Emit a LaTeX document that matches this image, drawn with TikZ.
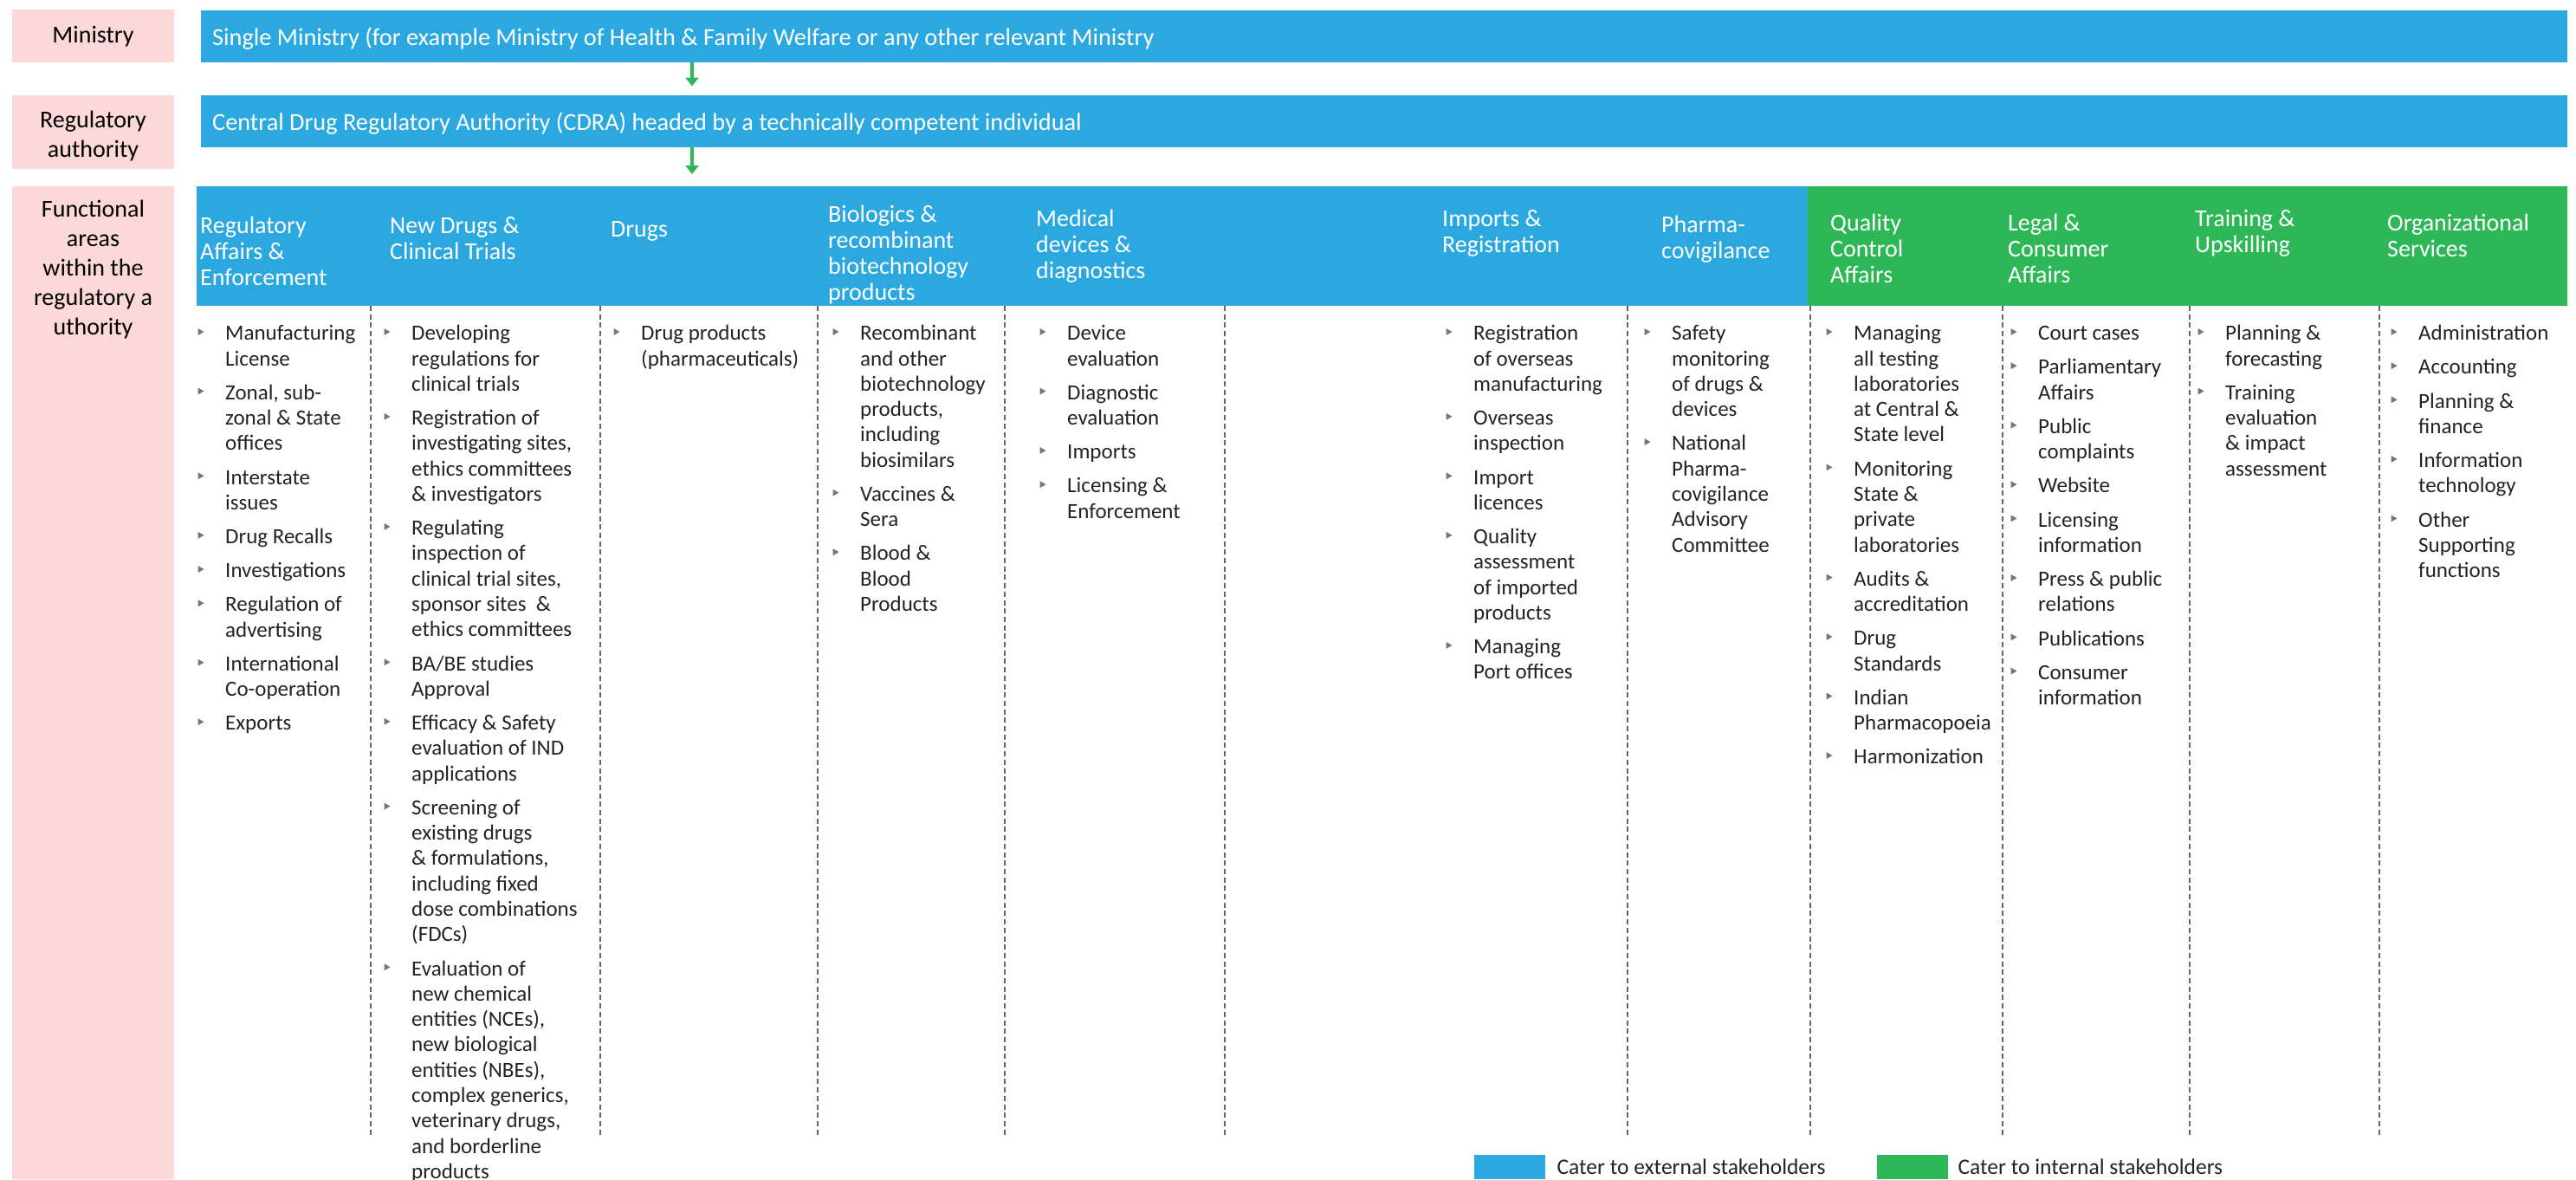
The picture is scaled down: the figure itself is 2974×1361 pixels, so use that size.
\documentclass[tikz,border=0pt]{standalone}
\usepackage{fontspec}
\setmainfont{Carlito}
\usetikzlibrary{positioning,calc,arrows.meta}
\definecolor{ExtClr}{RGB}{44,168,224}
\definecolor{IntClr}{RGB}{45,183,87}
\definecolor{LblClr}{RGB}{253,216,216}
\definecolor{SepClr}{RGB}{92,104,118}
\definecolor{BltClr}{RGB}{118,118,118}
\definecolor{TxtClr}{RGB}{35,35,35}

% one column of bulleted items: prefix, text x, items
\newcommand\areacol[3]{%
  \coordinate (#1-0) at (#2,362.5);
  \foreach \txt [count=\i] in {#3}{
    \pgfmathtruncatemacro\j{\i-1}
    \node[itm, below=9.5pt of #1-\j.south west, anchor=north west] (#1-\i) {\strut\txt\strut};
    \fill[BltClr] ($(#1-\i.north west)+(-31.5,7)$) -- ++(0,8) -- ++(7,-4) -- cycle;
  }
}

\begin{document}
\begin{tikzpicture}[x=1pt,y=-1pt,
  lbl/.style={fill=LblClr,inner sep=0,minimum width=187pt},
  lbltxt/.style={inner sep=0,align=center,font=\fontsize{28}{34}\selectfont,text=black},
  bar/.style={fill=ExtClr,inner sep=0,anchor=north west,minimum width=2732pt,minimum height=60pt},
  bartxt/.style={inner sep=0,anchor=base west,font=\fontsize{28.3}{34}\selectfont,text=white},
  hd/.style={inner sep=0,align=left,anchor=north west,font=\fontsize{28}{30}\selectfont,text=white},
  itm/.style={inner sep=0,align=left,font=\fontsize{25}{29.3}\selectfont,text=TxtClr},
  sep/.style={SepClr,line width=2.3pt,dash pattern=on 6pt off 3.7pt},
  arr/.style={IntClr,line width=4pt,-{Triangle[width=15pt,length=10pt]}},
  key/.style={inner sep=0,minimum width=82pt,minimum height=28pt,anchor=north west},
  keytxt/.style={inner sep=0,font=\fontsize{25.5}{30}\selectfont,text=TxtClr}]
\useasboundingbox (0,0) rectangle (2974,1361);

% left labels
\node[lbl,minimum height=61pt] (lmin) at (107.5,41.5) {};
\node[lbltxt,anchor=base] (lmintxt) at (107.5,49.5) {Ministry};
\node[lbl,minimum height=85pt] (lreg) at (107.5,152.5) {};
\node[lbltxt,anchor=north] (lregtxt) at (107.5,123) {\strut Regulatory\\authority};
\node[lbl,anchor=north,minimum height=1146pt] (lfun) at (107.5,215) {};
\node[lbltxt,anchor=north] (lfuntxt) at (107.5,226) {\strut Functional\\areas\\within the\\regulatory a\\uthority};

% top bars
\node[bar] (ministry) at (232,12) {};
\node[bartxt] (ministrytxt) at (245,52) {Single Ministry (for example Ministry of Health \& Family Welfare or any other relevant Ministry};
\node[bar] (cdra) at (232,110) {};
\node[bartxt] (cdratxt) at (245,150) {Central Drug Regulatory Authority (CDRA) headed by a technically competent individual};
\node[fill=ExtClr,inner sep=0,anchor=north west,minimum width=1860pt,minimum height=138pt] (extband) at (227,215) {};
\node[fill=IntClr,inner sep=0,anchor=north west,minimum width=877pt,minimum height=138pt] (intband) at (2087,215) {};

\draw[arr] ($(ministry.south west)+(567,0)$) -- ($(cdra.north west)+(567,-10.5)$);
\draw[arr] ($(cdra.south west)+(567,0)$) -- ($(extband.north west)+(572,-14)$);

% headers
\node[hd] (hra) at (231,248) {\strut Regulatory\\Affairs \&\\Enforcement};
\node[hd] (hnd) at (450,248) {\strut New Drugs \&\\Clinical Trials};
\node[hd] (hdr) at (705,252) {\strut Drugs};
\node[hd] (hbi) at (956,235) {\strut Biologics \&\\recombinant\\biotechnology\\products};
\node[hd] (hmd) at (1196,240) {\strut Medical\\devices \&\\diagnostics};
\node[hd] (him) at (1665,240) {\strut Imports \&\\Registration};
\node[hd] (hpv) at (1918,247) {\strut Pharma-\\covigilance};
\node[hd] (hqc) at (2113,245) {\strut Quality\\Control\\Affairs};
\node[hd] (hlc) at (2318,245) {\strut Legal \&\\Consumer\\Affairs};
\node[hd] (htu) at (2534,240) {\strut Training \&\\Upskilling};
\node[hd] (hos) at (2756,245) {\strut Organizational\\Services};

% column separators
\foreach \x in {428,693,944,1160,1414,1879,2090,2312,2528,2747}
  \draw[sep] (\x,353) -- (\x,1313);

% items
\areacol{ra}{260}{{Manufacturing\\License},{Zonal, sub-\\zonal \& State\\offices},{Interstate\\issues},{Drug Recalls},{Investigations},{Regulation of\\advertising},{International\\Co-operation},{Exports}}
\areacol{nd}{475}{{Developing\\regulations for\\clinical trials},{Registration of\\investigating sites,\\ethics committees\\\& investigators},{Regulating\\inspection of\\clinical trial sites,\\sponsor sites \ \&\\ethics committees},{BA/BE studies\\Approval},{Efficacy \& Safety\\evaluation of IND\\applications},{Screening of\\existing drugs\\\& formulations,\\including fixed\\dose combinations\\(FDCs)},{Evaluation of\\new chemical\\entities (NCEs),\\new biological\\entities (NBEs),\\complex generics,\\veterinary drugs,\\and borderline\\products}}
\areacol{dr}{740}{{Drug products\\(pharmaceuticals)}}
\areacol{bi}{993}{{Recombinant\\and other\\biotechnology\\products,\\including\\biosimilars},{Vaccines \&\\Sera},{Blood \&\\Blood\\Products}}
\areacol{md}{1232}{{Device\\evaluation},{Diagnostic\\evaluation},{Imports},{Licensing \&\\Enforcement}}
\areacol{im}{1701}{{Registration\\of overseas\\manufacturing},{Overseas\\inspection},{Import\\licences},{Quality\\assessment\\of imported\\products},{Managing\\Port offices}}
\areacol{pv}{1930}{{Safety\\monitoring\\of drugs \&\\devices},{National\\Pharma-\\covigilance\\Advisory\\Committee}}
\areacol{qc}{2140}{{Managing\\all testing\\laboratories\\at Central \&\\State level},{Monitoring\\State \&\\private\\laboratories},{Audits \&\\accreditation},{Drug\\Standards},{Indian\\Pharmacopoeia},{Harmonization}}
\areacol{lc}{2353}{{Court cases},{Parliamentary\\Affairs},{Public\\complaints},{Website},{Licensing\\information},{Press \& public\\relations},{Publications},{Consumer\\information}}
\areacol{tu}{2569}{{Planning \&\\forecasting},{Training\\evaluation\\\& impact\\assessment}}
\areacol{os}{2792}{{Administration},{Accounting},{Planning \&\\finance},{Information\\technology},{Other\\Supporting\\functions}}

% legend
\node[key,fill=ExtClr] (kext) at (1702,1333) {};
\node[keytxt,right=13pt of kext] (kexttxt) {Cater to external stakeholders};
\node[key,fill=IntClr] (kint) at (2167,1333) {};
\node[keytxt,right=11pt of kint] (kinttxt) {Cater to internal stakeholders};
\end{tikzpicture}
\end{document}
